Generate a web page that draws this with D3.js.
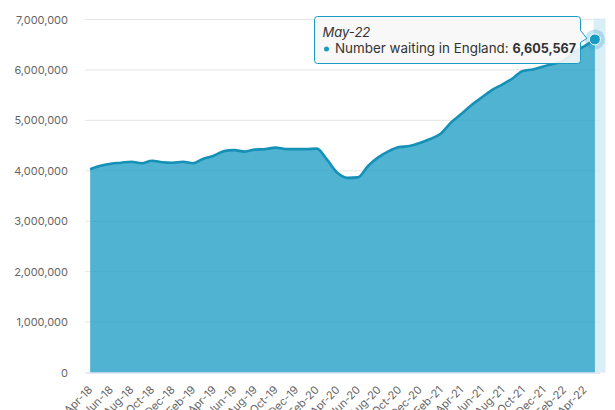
<!DOCTYPE html>
<html><head><meta charset="utf-8">
<script src="https://cdn.jsdelivr.net/npm/d3@7"></script>
<style>
html,body{margin:0;padding:0;background:#fff;}
svg{display:block;font-family:Inter, "Open Sans", sans-serif;}
</style></head>
<body><svg id="c" width="615" height="410"></svg>
<script>
const months = ["Apr-18","May-18","Jun-18","Jul-18","Aug-18","Sep-18","Oct-18","Nov-18","Dec-18",
"Jan-19","Feb-19","Mar-19","Apr-19","May-19","Jun-19","Jul-19","Aug-19","Sep-19","Oct-19","Nov-19","Dec-19",
"Jan-20","Feb-20","Mar-20","Apr-20","May-20","Jun-20","Jul-20","Aug-20","Sep-20","Oct-20","Nov-20","Dec-20",
"Jan-21","Feb-21","Mar-21","Apr-21","May-21","Jun-21","Jul-21","Aug-21","Sep-21","Oct-21","Nov-21","Dec-21",
"Jan-22","Feb-22","Mar-22","Apr-22","May-22"];
const waiting = [4030000,4100000,4140000,4160000,4180000,4150000,4200000,4170000,4160000,
4180000,4150000,4240000,4300000,4390000,4410000,4380000,4420000,4430000,4460000,4430000,4430000,
4430000,4440000,4220000,3960000,3860000,3870000,4100000,4270000,4390000,4470000,4490000,4550000,
4630000,4730000,4950000,5120000,5300000,5450000,5600000,5710000,5830000,5980000,6010000,6070000,
6120000,6190000,6350000,6470000,6605567];
const yTicks = [0,1000000,2000000,3000000,4000000,5000000,6000000,7000000];
const xTickLabels = months.filter((d,i)=>i%2===0);
const seriesName = "Number waiting in England";

const svg = d3.select("#c");
const pL = 85, pR = 600, pT = 19.5, pB = 372.5;
const x = d3.scaleBand().domain(months).range([pL,pR]);
const xc = d => x(d) + x.bandwidth()/2;
const y = d3.scaleLinear().domain([0,7000000]).range([pB,pT]);
const fmt = d3.format(",");

// gridlines
svg.append("g").selectAll("line").data(yTicks.filter(d=>d>0)).join("line")
  .attr("x1",pL).attr("x2",pR).attr("y1",d=>y(d)).attr("y2",d=>y(d))
  .attr("stroke","#e6e6e6").attr("stroke-width",1);

// y labels
svg.append("g").selectAll("text").data(yTicks).join("text")
  .attr("x",68).attr("y",d=>y(d)+4).attr("text-anchor","end")
  .attr("font-size",11).attr("fill","#666").text(d=>fmt(d));

// crosshair band
const last = months[months.length-1];
svg.append("rect").attr("x",x(last)+4).attr("y",pT-1).attr("width",x.bandwidth()+1.5)
  .attr("height",pB-pT+1).attr("fill","rgba(204,232,242,0.75)");

const data = months.map((m,i)=>({m,v:waiting[i]}));
const area = d3.area().x(d=>xc(d.m)).y0(pB).y1(d=>y(d.v)).curve(d3.curveMonotoneX);
const line = d3.line().x(d=>xc(d.m)).y(d=>y(d.v)).curve(d3.curveMonotoneX);
svg.append("path").datum(data).attr("d",area).attr("fill","#1a9bc4").attr("fill-opacity",0.76);
svg.append("path").datum(data).attr("d",line).attr("fill","none").attr("stroke","#1591b7").attr("stroke-width",2.6);

// x axis line
svg.append("line").attr("x1",pL).attr("x2",pR).attr("y1",pB+0.5).attr("y2",pB+0.5)
  .attr("stroke","#ccd6eb").attr("stroke-width",1);

// x labels
svg.append("g").selectAll("text").data(xTickLabels).join("text")
  .attr("transform",d=>`translate(${xc(d)+3},${pB+18}) rotate(-45)`)
  .attr("text-anchor","end").attr("font-size",11).attr("fill","#666").text(d=>d);

// hovered point
const lp = data[data.length-1];
svg.append("circle").attr("cx",xc(lp.m)).attr("cy",y(lp.v)).attr("r",10).attr("fill","rgba(26,155,196,0.25)");
svg.append("circle").attr("cx",xc(lp.m)).attr("cy",y(lp.v)).attr("r",5.5).attr("fill","#1a9bc4")
  .attr("stroke","#fff").attr("stroke-width",1);

// tooltip
const tx = 314.5, ty = 16.5, tw = 266, th = 47;
const px = xc(lp.m)-8, py = y(lp.v)-1;
svg.append("path")
  .attr("d",`M${tx+3},${ty} H${tx+tw-3} Q${tx+tw},${ty} ${tx+tw},${ty+3} V${ty+14} L${px},${py} L${tx+tw},${ty+26} V${ty+th-3} Q${tx+tw},${ty+th} ${tx+tw-3},${ty+th} H${tx+3} Q${tx},${ty+th} ${tx},${ty+th-3} V${ty+3} Q${tx},${ty} ${tx+3},${ty} Z`)
  .attr("fill","rgba(247,247,247,0.9)").attr("stroke","#1a9bc4").attr("stroke-width",1);
svg.append("text").attr("x",322.5).attr("y",37).attr("font-size",13).attr("font-style","italic")
  .attr("fill","#333").text(lp.m);
svg.append("circle").attr("cx",326.5).attr("cy",49).attr("r",2.5).attr("fill","#1a9bc4");
const t = svg.append("text").attr("x",335).attr("y",53).attr("font-size",13).attr("fill","#333");
t.append("tspan").attr("font-size",13.4).text(seriesName + ": ");
t.append("tspan").attr("font-weight","bold").attr("font-size",12.6).text(fmt(lp.v));
</script></body></html>
